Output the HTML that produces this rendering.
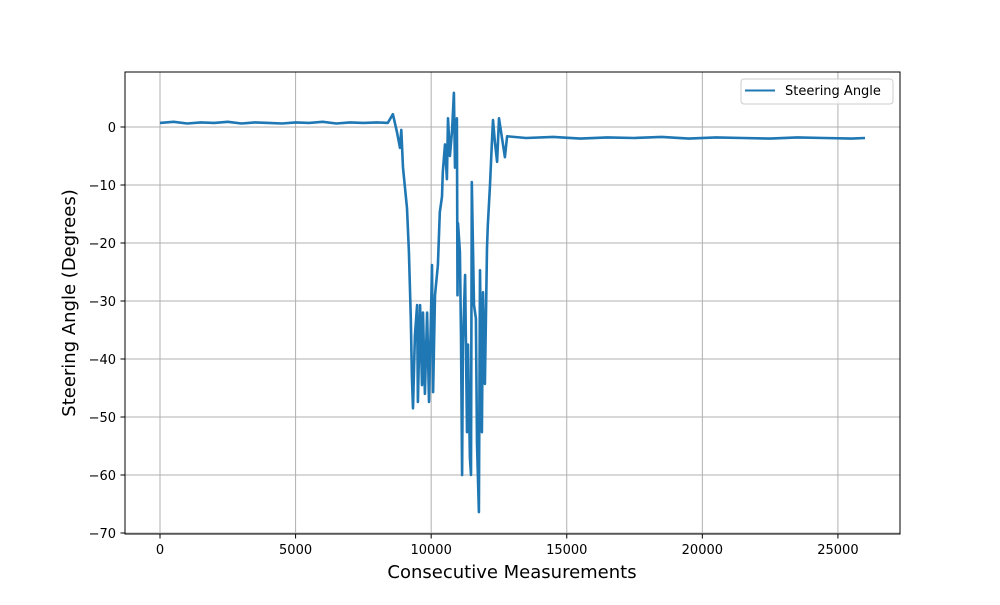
<!DOCTYPE html>
<html><head><meta charset="utf-8"><style>
body{margin:0;background:#fff}
svg text{font-family:"DejaVu Sans","Liberation Sans",sans-serif;fill:#000}
</style></head><body>
<svg width="1000" height="600" viewBox="0 0 1000 600">
<g id="grid"></g><g id="axes"></g>
<path id="series" fill="none" stroke="#1f77b4" stroke-width="2.6" stroke-linejoin="round"/>
<rect x="125" y="72" width="775" height="462" fill="none" stroke="#000" stroke-width="1"/>
<g>
<rect x="741" y="79" width="152" height="25" rx="3" fill="#fff" fill-opacity="0.8" stroke="#ccc"/>
<line x1="745" y1="90.5" x2="775" y2="90.5" stroke="#1f77b4" stroke-width="2"/>
<text x="785" y="95" font-size="13">Steering Angle</text>
</g>
<text x="512" y="578" font-size="18" text-anchor="middle">Consecutive Measurements</text>
<text transform="translate(75,303) rotate(-90)" font-size="18" text-anchor="middle">Steering Angle (Degrees)</text>
</svg>
<script>
const xTicks=[0,5000,10000,15000,20000,25000];
const yTicks=[0,-10,-20,-30,-40,-50,-60,-70];
const xs=[0,500,1000,1500,2000,2500,3000,3500,4000,4500,5000,5500,6000,6500,7000,7500,8000,8400,8590,8740,8850,8900,8960,9110,9180,9250,9290,9330,9400,9480,9510,9590,9660,9700,9770,9850,9920,9990,10030,10070,10140,10250,10320,10400,10430,10510,10580,10620,10690,10770,10840,10880,10950,10970,10990,11060,11100,11140,11170,11250,11320,11360,11430,11470,11500,11580,11650,11690,11760,11800,11870,11910,11980,12060,12090,12170,12240,12280,12350,12430,12500,12610,12720,12800,13500,14500,15500,16500,17500,18500,19500,20500,21500,22500,23500,24500,25500,26000];
const ys=[0.7,0.9,0.6,0.8,0.7,0.9,0.6,0.8,0.7,0.6,0.8,0.7,0.9,0.6,0.8,0.7,0.8,0.7,2.2,-0.9,-3.6,-0.5,-7,-14,-21.5,-33,-43,-48.5,-36,-30.7,-47.4,-30.7,-44.5,-32,-46,-32,-47.4,-33,-23.8,-45.7,-29,-23.8,-14.7,-12,-7.8,-3,-9,1.5,-5,-0.5,5.9,-7,1.5,-29,-16.6,-21.5,-36,-60,-37.5,-25.5,-52.6,-37.5,-57,-60,-9.5,-30.7,-33,-54.6,-66.4,-24.7,-52.6,-28.5,-44.3,-20.9,-17,-10,-2.6,1.2,-2.6,-6,1.5,-1.8,-5.2,-1.6,-1.9,-1.7,-2.0,-1.8,-1.9,-1.7,-2.0,-1.8,-1.9,-2.0,-1.8,-1.9,-2.0,-1.9];
const X=v=>160+v*0.027117;
const Y=v=>127-v*5.8;
const ns="http://www.w3.org/2000/svg";
const grid=document.getElementById('grid'),axes=document.getElementById('axes');
function mk(tag,attrs,parent){const e=document.createElementNS(ns,tag);for(const k in attrs)e.setAttribute(k,attrs[k]);parent.appendChild(e);return e;}
xTicks.forEach(t=>{const x=X(t);
const g=mk('line',{x1:x,x2:x,y1:72,y2:534,stroke:'#b0b0b0','stroke-width':1},grid);


const tk=mk('line',{x1:x,x2:x,y1:534,y2:538.5,stroke:'#000'},axes);


const tx=mk('text',{x:x,y:554,'font-size':13,'text-anchor':'middle'},axes);tx.textContent=t;

});
yTicks.forEach(t=>{const y=Y(t);
const g=mk('line',{x1:125,x2:900,y1:y,y2:y,stroke:'#b0b0b0','stroke-width':1},grid);


const tk=mk('line',{x1:120.5,x2:125,y1:y,y2:y,stroke:'#000'},axes);


const tx=mk('text',{x:116,y:y+5,'font-size':13,'text-anchor':'end'},axes);tx.textContent=t<0?'\u2212'+(-t):t;

});
document.getElementById('series').setAttribute('d',xs.map((v,i)=>(i?'L':'M')+X(v).toFixed(1)+','+Y(ys[i]).toFixed(1)).join(''));
</script>
</body></html>
